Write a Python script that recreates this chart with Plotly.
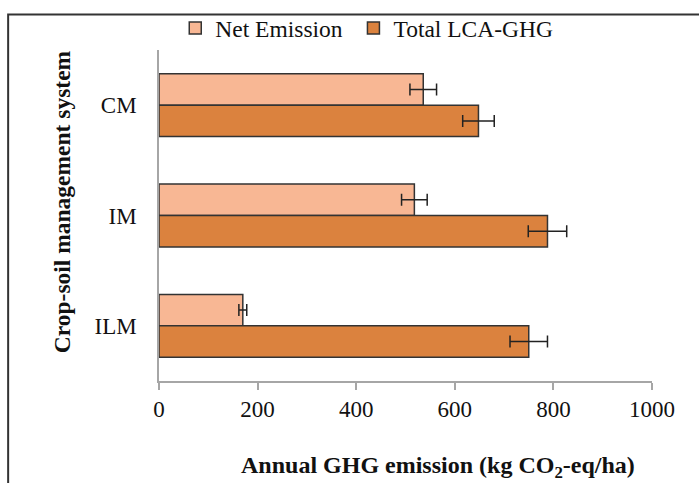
import plotly.graph_objects as go

categories = ["CM", "IM", "ILM"]
net_emission = [536, 518, 170]
net_err = [27, 26, 8]
total_lca = [648, 788, 750]
total_err = [32, 39, 38]

x_ticks = [0, 200, 400, 600, 800, 1000]

FONT = "Liberation Serif, Times New Roman, serif"
NET_COLOR = "#F8B794"
TOTAL_COLOR = "#DB823E"
EDGE = "#333333"

fig = go.Figure()
fig.add_trace(go.Bar(
    name="Net Emission\u00a0", y=categories, x=net_emission, orientation="h",
    marker=dict(color=NET_COLOR, line=dict(color=EDGE, width=1.5)),
    error_x=dict(type="data", array=net_err, visible=True, color="#222222", thickness=1.5, width=6),
))
fig.add_trace(go.Bar(
    name="Total LCA-GHG", y=categories, x=total_lca, orientation="h",
    marker=dict(color=TOTAL_COLOR, line=dict(color=EDGE, width=1.5)),
    error_x=dict(type="data", array=total_err, visible=True, color="#222222", thickness=1.5, width=6),
))

fig.update_layout(
    width=699, height=483,
    margin=dict(l=159, r=47, t=50, b=102, autoexpand=False),
    paper_bgcolor="white", plot_bgcolor="white",
    barmode="group", bargap=0.43, bargroupgap=0,
    font=dict(family=FONT, size=23, color="#111111"),
    showlegend=True,
    legend=dict(orientation="h", x=0.033, xanchor="left", y=1.066, yanchor="middle",
                font=dict(family=FONT, size=23.5, color="#111111"),
                bgcolor="rgba(0,0,0,0)", itemclick=False),
    xaxis=dict(range=[0, 1000], tickvals=x_ticks, showgrid=False, zeroline=False,
               showline=True, linecolor="#A6A6A6", linewidth=1.5,
               ticks="outside", ticklen=7, tickcolor="#A6A6A6", tickwidth=1.5,
               tickfont=dict(family=FONT, size=23, color="#111111")),
    yaxis=dict(categoryorder="array", categoryarray=categories, range=[2.5, -0.5],
               showgrid=False, zeroline=False, showline=True, linecolor="#A6A6A6", linewidth=1.5,
               ticks="", ticklabelstandoff=16,
               tickfont=dict(family=FONT, size=23, color="#111111")),
    shapes=[dict(type="rect", xref="paper", yref="paper",
                 x0=-0.306, x1=1.2, y0=-0.5, y1=1.107,
                 line=dict(color="#333333", width=2), fillcolor="rgba(0,0,0,0)")],
    annotations=[
        dict(text="<b>Annual GHG emission (kg CO<sub>2</sub>-eq/ha)</b>", xref="paper", yref="paper",
             x=0.566, y=-0.26, xanchor="center", yanchor="middle", showarrow=False,
             font=dict(family=FONT, size=24, color="#111111")),
        dict(text="<b>Crop-soil management system</b>", xref="paper", yref="paper",
             x=-0.1975, y=0.542, xanchor="center", yanchor="middle", showarrow=False,
             textangle=-90, font=dict(family=FONT, size=23.5, color="#111111")),
    ],
)

fig.write_html("out.html")
